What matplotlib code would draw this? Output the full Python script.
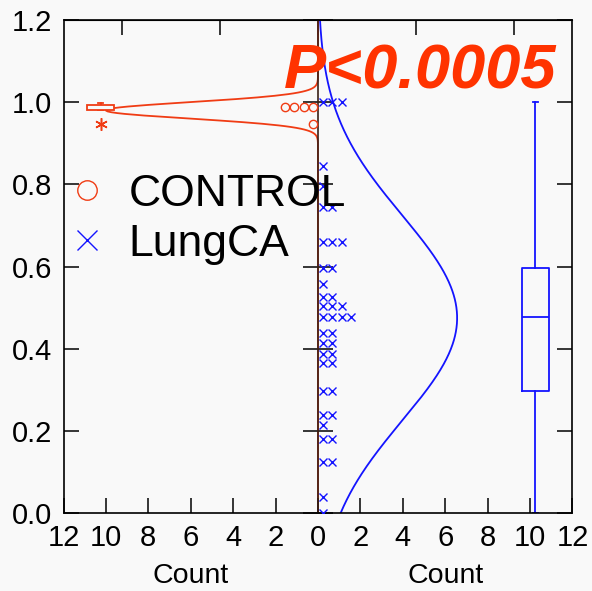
import numpy as np
import matplotlib.pyplot as plt
from matplotlib.lines import Line2D

plt.rcParams['font.family'] = ['Liberation Sans', 'DejaVu Sans']

# values
control = [0.947, 0.980, 0.983, 0.993, 0.998]
lungca = [1.0, 1.0, 1.0, 0.844, 0.795, 0.744, 0.744, 0.66, 0.66, 0.66,
          0.596, 0.596, 0.558, 0.526, 0.526, 0.504, 0.504, 0.504,
          0.478, 0.478, 0.478, 0.478, 0.437, 0.437, 0.415, 0.415,
          0.387, 0.387, 0.364, 0.364, 0.296, 0.296, 0.238, 0.238, 0.213,
          0.181, 0.181, 0.124, 0.124, 0.04, 0.0]
group_names = ['CONTROL', 'LungCA']
p_text = 'P<0.0005'
bin_width = 0.1
count_ticks = list(range(-12, 13, 2))
top_ticks = [-9.25, -4.62, 0, 4.62, 9.25]

red = '#f03c14'
blue = '#1414ff'
bg = '#f9f9f9'
step = 0.45  # dot spacing in counts


def dot_rows(vals, tol=0.021):
    vals = np.sort(vals)
    rows = []
    grp = [vals[0]]
    for v in vals[1:]:
        if v - grp[0] > tol:
            rows.append(grp)
            grp = [v]
        else:
            grp.append(v)
    rows.append(grp)
    xs, ys = [], []
    for g in rows:
        for k in range(len(g)):
            xs.append((k + 0.5) * step)
            ys.append(np.mean(g))
    return np.array(xs), np.array(ys)


def normal_counts(vals, y):
    vals = np.asarray(vals)
    m, s = vals.mean(), vals.std(ddof=1)
    return len(vals) * bin_width / (s * np.sqrt(2 * np.pi)) * np.exp(-(y - m) ** 2 / (2 * s ** 2))


fig = plt.figure(figsize=(5.92, 5.91), dpi=100, facecolor=bg)
ax = fig.add_axes([0.1073, 0.132, 0.8597, 0.834], facecolor=bg)

yy = np.linspace(0, 1.2, 600)

# control (left side, mirrored)
cx, cy = dot_rows(control)
ax.plot(-cx, cy, 'o', mfc='none', mec=red, ms=6, mew=1.0, zorder=3)
ax.plot(-normal_counts(control, yy), yy, color=red, lw=1.3, zorder=1.5)
ax.boxplot(control, positions=[-10.25], widths=1.25, whis=1.5, capwidths=0.25,
           manage_ticks=False,
           boxprops=dict(color=red, lw=1.3), medianprops=dict(color=red, lw=1.3),
           whiskerprops=dict(color=red, lw=1.3), capprops=dict(color=red, lw=1.3),
           flierprops=dict(marker=(6, 2, 0), mec=red, mfc=red, ms=9, mew=1.1),
           patch_artist=True)
for p in ax.patches:
    p.set_facecolor(bg)
    p.set_edgecolor(red)
    p.set_zorder(2.6)

# lung cancer (right side)
lx, ly = dot_rows(lungca)
ax.plot(lx, ly, 'x', color=blue, ms=6, mew=1.0, zorder=3)
ax.plot(normal_counts(lungca, yy), yy, color=blue, lw=1.3, zorder=1.5)
ax.boxplot(lungca, positions=[10.25], widths=1.25, whis=(0, 100), capwidths=0.25,
           manage_ticks=False, showfliers=False,
           boxprops=dict(color=blue, lw=1.3), medianprops=dict(color=blue, lw=1.3),
           whiskerprops=dict(color=blue, lw=1.3), capprops=dict(color=blue, lw=1.3))

ax.set_xlim(-12, 12)
ax.set_ylim(0, 1.2)
ax.set_xticks(count_ticks)
ax.set_xticklabels([str(abs(t)) for t in count_ticks])
ax.set_yticks(np.arange(0, 1.21, 0.2))
ax.set_yticklabels(['%.1f' % v for v in np.arange(0, 1.21, 0.2)])
ax.tick_params(axis='both', direction='in', length=11, width=1.1, labelsize=21,
               right=True, colors='black')
ax.tick_params(axis='x', pad=8)
ax.tick_params(axis='y', pad=8)
for sp in ax.spines.values():
    sp.set_linewidth(1.2)

# centre axis with ticks on both sides
mid = ax.secondary_yaxis(0.5)
mid.set_zorder(2)
mid.set_yticks(np.arange(0, 1.21, 0.2))
mid.tick_params(direction='inout', length=22, width=1.1, labelleft=False, labelright=False)
mid.spines['left'].set_linewidth(1.2)
mid.spines['left'].set_color('#3a2018')
mid.spines['right'].set_linewidth(1.2)
mid.spines['right'].set_color('#3a2018')

top = ax.secondary_xaxis('top')
top.set_xticks(top_ticks)
top.tick_params(direction='in', length=11, width=1.1, labeltop=False)

xt = ax.get_xaxis_transform()
ax.text(-6, -0.128, 'Count', transform=xt, ha='center', va='center', fontsize=20.5)
ax.text(6, -0.128, 'Count', transform=xt, ha='center', va='center', fontsize=20.5)

ax.text(11.25, 1.034, p_text, ha='right', va='baseline', fontsize=45.5,
        fontweight='bold', fontstyle='italic', color='#ff3300', zorder=5)

handles = [Line2D([], [], ls='none', marker='o', mfc='none', mec=red, ms=14, mew=1.0),
           Line2D([], [], ls='none', marker='x', color=blue, ms=14, mew=1.0)]
ax.legend(handles, group_names, loc='upper left', bbox_to_anchor=(-0.032, 0.724),
          frameon=False, fontsize=32, handlelength=1.0, handletextpad=0.43,
          labelspacing=0.2, borderaxespad=0)

fig.savefig('out.png', dpi=100, facecolor=bg)
